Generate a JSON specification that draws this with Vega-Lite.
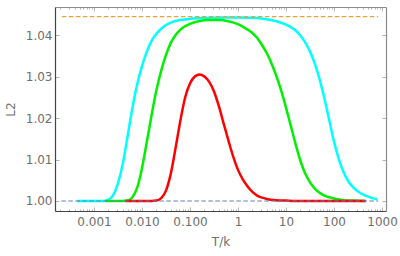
{
  "$schema": "https://vega.github.io/schema/vega-lite/v6.json",
  "autosize": {"type": "none"},
  "width": 331,
  "height": 204,
  "padding": {"left": 55, "top": 7, "right": 14, "bottom": 45},
  "background": "white",
  "config": {
    "view": {"stroke": null},
    "font": "DejaVu Sans",
    "axis": {
      "grid": false,
      "labelFont": "DejaVu Sans",
      "labelFontSize": 12,
      "labelColor": "#6e6e6e",
      "titleFont": "DejaVu Sans",
      "titleFontSize": 12,
      "titleFontWeight": "normal",
      "titleColor": "#6e6e6e",
      "tickColor": "#a0a0a0",
      "tickWidth": 0.8
    }
  },
  "resolve": {"axis": {"x": "independent", "y": "independent"}},
  "datasets": {
    "curves": [
      {"series": "cyan", "T": 0.00044, "L2": 1.0},
      {"series": "cyan", "T": 0.001, "L2": 1.0},
      {"series": "cyan", "T": 0.0012589, "L2": 1.0},
      {"series": "cyan", "T": 0.0015849, "L2": 1.0},
      {"series": "cyan", "T": 0.0019953, "L2": 1.0003},
      {"series": "cyan", "T": 0.0025119, "L2": 1.0014},
      {"series": "cyan", "T": 0.0031623, "L2": 1.0043},
      {"series": "cyan", "T": 0.0039811, "L2": 1.009},
      {"series": "cyan", "T": 0.0050119, "L2": 1.0156},
      {"series": "cyan", "T": 0.0063096, "L2": 1.0224},
      {"series": "cyan", "T": 0.0079433, "L2": 1.0281},
      {"series": "cyan", "T": 0.01, "L2": 1.0325},
      {"series": "cyan", "T": 0.012589, "L2": 1.036},
      {"series": "cyan", "T": 0.015849, "L2": 1.0386},
      {"series": "cyan", "T": 0.019953, "L2": 1.0403},
      {"series": "cyan", "T": 0.025119, "L2": 1.0415},
      {"series": "cyan", "T": 0.031623, "L2": 1.0424},
      {"series": "cyan", "T": 0.039811, "L2": 1.043},
      {"series": "cyan", "T": 0.063096, "L2": 1.0436},
      {"series": "cyan", "T": 0.1, "L2": 1.0439},
      {"series": "cyan", "T": 0.19953, "L2": 1.0441},
      {"series": "cyan", "T": 0.50119, "L2": 1.0442},
      {"series": "cyan", "T": 1, "L2": 1.0442},
      {"series": "cyan", "T": 2.5119, "L2": 1.0441},
      {"series": "cyan", "T": 3.9811, "L2": 1.0438},
      {"series": "cyan", "T": 6.3096, "L2": 1.0433},
      {"series": "cyan", "T": 10, "L2": 1.0425},
      {"series": "cyan", "T": 12.589, "L2": 1.0419},
      {"series": "cyan", "T": 15.849, "L2": 1.0411},
      {"series": "cyan", "T": 19.953, "L2": 1.0399},
      {"series": "cyan", "T": 25.119, "L2": 1.0382},
      {"series": "cyan", "T": 31.623, "L2": 1.036},
      {"series": "cyan", "T": 39.811, "L2": 1.0331},
      {"series": "cyan", "T": 50.119, "L2": 1.0293},
      {"series": "cyan", "T": 63.096, "L2": 1.0247},
      {"series": "cyan", "T": 79.433, "L2": 1.0195},
      {"series": "cyan", "T": 100, "L2": 1.0143},
      {"series": "cyan", "T": 125.89, "L2": 1.0101},
      {"series": "cyan", "T": 158.49, "L2": 1.0069},
      {"series": "cyan", "T": 199.53, "L2": 1.0047},
      {"series": "cyan", "T": 251.19, "L2": 1.0033},
      {"series": "cyan", "T": 316.23, "L2": 1.0023},
      {"series": "cyan", "T": 398.11, "L2": 1.0016},
      {"series": "cyan", "T": 501.19, "L2": 1.0011},
      {"series": "cyan", "T": 630.96, "L2": 1.0007},
      {"series": "cyan", "T": 794.33, "L2": 1.0004},
      {"series": "green", "T": 0.0017, "L2": 1.0},
      {"series": "green", "T": 0.0031623, "L2": 1.0},
      {"series": "green", "T": 0.0039811, "L2": 1.0},
      {"series": "green", "T": 0.0050119, "L2": 1.0001},
      {"series": "green", "T": 0.0063096, "L2": 1.0009},
      {"series": "green", "T": 0.0079433, "L2": 1.0032},
      {"series": "green", "T": 0.01, "L2": 1.0079},
      {"series": "green", "T": 0.012589, "L2": 1.0142},
      {"series": "green", "T": 0.015849, "L2": 1.0207},
      {"series": "green", "T": 0.019953, "L2": 1.0267},
      {"series": "green", "T": 0.025119, "L2": 1.0314},
      {"series": "green", "T": 0.031623, "L2": 1.0352},
      {"series": "green", "T": 0.039811, "L2": 1.0381},
      {"series": "green", "T": 0.050119, "L2": 1.04},
      {"series": "green", "T": 0.063096, "L2": 1.0413},
      {"series": "green", "T": 0.1, "L2": 1.0427},
      {"series": "green", "T": 0.15849, "L2": 1.0434},
      {"series": "green", "T": 0.25119, "L2": 1.0436},
      {"series": "green", "T": 0.39811, "L2": 1.0436},
      {"series": "green", "T": 0.63096, "L2": 1.0433},
      {"series": "green", "T": 1, "L2": 1.0426},
      {"series": "green", "T": 1.5849, "L2": 1.0413},
      {"series": "green", "T": 1.9953, "L2": 1.0405},
      {"series": "green", "T": 2.5119, "L2": 1.0393},
      {"series": "green", "T": 3.1623, "L2": 1.0376},
      {"series": "green", "T": 3.9811, "L2": 1.0356},
      {"series": "green", "T": 5.0119, "L2": 1.0331},
      {"series": "green", "T": 6.3096, "L2": 1.0301},
      {"series": "green", "T": 7.9433, "L2": 1.0266},
      {"series": "green", "T": 10, "L2": 1.0225},
      {"series": "green", "T": 12.589, "L2": 1.0181},
      {"series": "green", "T": 15.849, "L2": 1.0137},
      {"series": "green", "T": 19.953, "L2": 1.0097},
      {"series": "green", "T": 25.119, "L2": 1.0066},
      {"series": "green", "T": 31.623, "L2": 1.0045},
      {"series": "green", "T": 39.811, "L2": 1.003},
      {"series": "green", "T": 50.119, "L2": 1.002},
      {"series": "green", "T": 63.096, "L2": 1.0013},
      {"series": "green", "T": 79.433, "L2": 1.0009},
      {"series": "green", "T": 100, "L2": 1.0006},
      {"series": "green", "T": 158.49, "L2": 1.0002},
      {"series": "green", "T": 251.19, "L2": 1.0001},
      {"series": "green", "T": 457, "L2": 1.0},
      {"series": "red", "T": 0.0044668, "L2": 1.0},
      {"series": "red", "T": 0.01, "L2": 1.0},
      {"series": "red", "T": 0.015849, "L2": 1.0},
      {"series": "red", "T": 0.019953, "L2": 1.0001},
      {"series": "red", "T": 0.025119, "L2": 1.0007},
      {"series": "red", "T": 0.031623, "L2": 1.0025},
      {"series": "red", "T": 0.039811, "L2": 1.0066},
      {"series": "red", "T": 0.050119, "L2": 1.0128},
      {"series": "red", "T": 0.063096, "L2": 1.0194},
      {"series": "red", "T": 0.079433, "L2": 1.025},
      {"series": "red", "T": 0.1, "L2": 1.0283},
      {"series": "red", "T": 0.12589, "L2": 1.03},
      {"series": "red", "T": 0.15849, "L2": 1.0305},
      {"series": "red", "T": 0.19953, "L2": 1.03},
      {"series": "red", "T": 0.25119, "L2": 1.0287},
      {"series": "red", "T": 0.31623, "L2": 1.0264},
      {"series": "red", "T": 0.39811, "L2": 1.0229},
      {"series": "red", "T": 0.50119, "L2": 1.0187},
      {"series": "red", "T": 0.63096, "L2": 1.0146},
      {"series": "red", "T": 0.79433, "L2": 1.0107},
      {"series": "red", "T": 1, "L2": 1.0075},
      {"series": "red", "T": 1.2589, "L2": 1.0052},
      {"series": "red", "T": 1.5849, "L2": 1.0035},
      {"series": "red", "T": 1.9953, "L2": 1.0022},
      {"series": "red", "T": 2.5119, "L2": 1.0013},
      {"series": "red", "T": 3.1623, "L2": 1.0008},
      {"series": "red", "T": 3.9811, "L2": 1.0005},
      {"series": "red", "T": 6.3096, "L2": 1.0002},
      {"series": "red", "T": 10, "L2": 1.0001},
      {"series": "red", "T": 19.953, "L2": 1.0},
      {"series": "red", "T": 457, "L2": 1.0}
    ],
    "refs": [
      {"series": "upper", "T": 0.000214, "L2": 1.04441},
      {"series": "upper", "T": 832, "L2": 1.04441},
      {"series": "base", "T": 0.000209, "L2": 1.0},
      {"series": "base", "T": 832, "L2": 1.0}
    ]
  },
  "layer": [
    {
      "data": {"name": "curves"},
      "mark": {"type": "line", "strokeWidth": 2.5, "interpolate": "monotone"},
      "encoding": {
        "x": {
          "field": "T", "type": "quantitative",
          "scale": {"type": "log", "domain": [0.000154, 1211], "nice": false},
          "axis": {
            "orient": "bottom",
            "title": "T/k",
            "values": [0.0002, 0.0003, 0.0004, 0.0005, 0.0006, 0.0007, 0.0008, 0.0009, 0.001, 0.002, 0.003, 0.004, 0.005, 0.006, 0.007, 0.008, 0.009, 0.01, 0.02, 0.03, 0.04, 0.05, 0.06, 0.07, 0.08, 0.09, 0.1, 0.2, 0.3, 0.4, 0.5, 0.6, 0.7, 0.8, 0.9, 1, 2, 3, 4, 5, 6, 7, 8, 9, 10, 20, 30, 40, 50, 60, 70, 80, 90, 100, 200, 300, 400, 500, 600, 700, 800, 900, 1000],
            "labelExpr": "indexof(['0.001','0.01','0.1','1','10','100','1000'], '' + datum.value) < 0 ? '' : (datum.value < 0.9 ? format(datum.value, '.3f') : format(datum.value, 'd'))",
            "tickSize": {"condition": {"test": "indexof([0.001,0.01,0.1,1,10,100,1000], datum.value) >= 0", "value": -4}, "value": -2},
            "domainColor": "#444444",
            "domainWidth": 1.2,
            "labelPadding": 9,
            "labelFlush": false,
            "labelOverlap": false,
            "titlePadding": 7
          }
        },
        "y": {
          "field": "L2", "type": "quantitative",
          "scale": {"domain": [0.99759, 1.04675], "nice": false, "zero": false},
          "axis": {
            "orient": "left",
            "title": "L2",
            "values": [1.0, 1.01, 1.02, 1.03, 1.04],
            "format": ".2f",
            "tickSize": -4,
            "domainColor": "#444444",
            "domainWidth": 1.2,
            "labelPadding": 7,
            "titlePadding": 8
          }
        },
        "color": {
          "field": "series", "type": "nominal",
          "scale": {"domain": ["cyan", "green", "red", "upper", "base"], "range": ["#00FFFF", "#00F000", "#FF0000", "#E8A33A", "#5E81B5"]},
          "legend": null
        },
        "order": {"field": "T", "type": "quantitative"}
      }
    },
    {
      "data": {"name": "refs"},
      "mark": {"type": "line", "strokeWidth": 1.2, "strokeDash": [4.5, 2.5]},
      "encoding": {
        "x": {
          "field": "T", "type": "quantitative",
          "axis": {
            "orient": "top",
            "title": null,
            "labels": false,
            "values": [0.0002, 0.0003, 0.0004, 0.0005, 0.0006, 0.0007, 0.0008, 0.0009, 0.001, 0.002, 0.003, 0.004, 0.005, 0.006, 0.007, 0.008, 0.009, 0.01, 0.02, 0.03, 0.04, 0.05, 0.06, 0.07, 0.08, 0.09, 0.1, 0.2, 0.3, 0.4, 0.5, 0.6, 0.7, 0.8, 0.9, 1, 2, 3, 4, 5, 6, 7, 8, 9, 10, 20, 30, 40, 50, 60, 70, 80, 90, 100, 200, 300, 400, 500, 600, 700, 800, 900, 1000],
            "tickSize": {"condition": {"test": "indexof([0.001,0.01,0.1,1,10,100,1000], datum.value) >= 0", "value": -4}, "value": -2},
            "domainColor": "#8c8c8c",
            "domainWidth": 1.2
          }
        },
        "y": {
          "field": "L2", "type": "quantitative",
          "axis": {
            "orient": "right",
            "title": null,
            "labels": false,
            "values": [1.0, 1.01, 1.02, 1.03, 1.04],
            "tickSize": -4,
            "domainColor": "#8c8c8c",
            "domainWidth": 1.2
          }
        },
        "color": {"field": "series", "type": "nominal", "legend": null}
      }
    }
  ]
}
